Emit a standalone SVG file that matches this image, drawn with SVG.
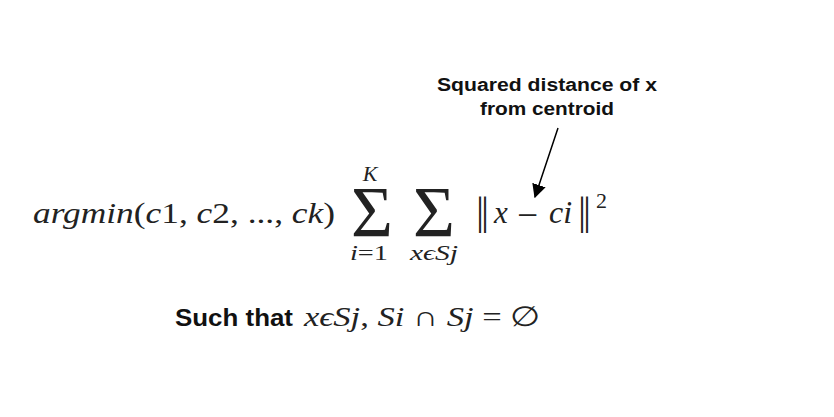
<svg xmlns="http://www.w3.org/2000/svg" width="834" height="417" viewBox="0 0 834 417">
<style>
.m{font-family:"Liberation Serif","DejaVu Serif",serif;font-style:italic;fill:#222}
.u{font-style:normal}
.bar{font-family:"Liberation Serif","DejaVu Serif",serif;font-style:normal;fill:#222;letter-spacing:-3px}
.lab{font-family:"Liberation Sans",Arial,sans-serif;font-weight:bold;fill:#111}
.sig{font-family:"Liberation Serif","DejaVu Serif",serif;font-size:72px;fill:#222;text-anchor:middle}
</style>
<defs>
<marker id="ah" viewBox="0 0 10 10" refX="9" refY="5" markerWidth="14" markerHeight="14" markerUnits="userSpaceOnUse" orient="auto">
<path d="M0,0 L10,5 L0,10 z" fill="#000"/>
</marker>
</defs>
<rect width="834" height="417" fill="#fff"/>
<g id="formula">
<text class="m" x="33" y="223" font-size="30" textLength="302" lengthAdjust="spacingAndGlyphs">argmin<tspan class="u">(</tspan>c<tspan class="u">1, </tspan>c<tspan class="u">2, ..., </tspan>ck<tspan class="u">)</tspan></text>
<text class="sig" x="372" y="236">Σ</text>
<text class="m" x="370" y="181" font-size="22" text-anchor="middle">K</text>
<text class="m" x="350" y="260" font-size="22" textLength="38" lengthAdjust="spacingAndGlyphs">i<tspan class="u">=1</tspan></text>
<text class="sig" x="434" y="236">Σ</text>
<text class="m" x="410" y="260" font-size="22" textLength="48" lengthAdjust="spacingAndGlyphs">xϵSj</text>
<text class="bar" x="476" y="224" font-size="40">||</text>
<text class="m" x="494" y="223" font-size="31">x</text>
<text class="m u" x="517" y="227" font-size="36" textLength="21" lengthAdjust="spacingAndGlyphs">−</text>
<text class="m" x="549" y="223" font-size="32">ci</text>
<text class="bar" x="578" y="224" font-size="40">||</text>
<text class="m u" x="596" y="208" font-size="22">2</text>
</g>
<g id="label">
<text class="lab" x="547" y="91" font-size="18" text-anchor="middle" textLength="220" lengthAdjust="spacingAndGlyphs">Squared distance of x</text>
<text class="lab" x="547" y="115" font-size="18" text-anchor="middle" textLength="134" lengthAdjust="spacingAndGlyphs">from centroid</text>
</g>
<g id="connectors">
<line x1="558" y1="128" x2="535" y2="197" stroke="#000" stroke-width="1.5" marker-end="url(#ah)"/>
</g>
<g id="constraint">
<text class="lab" x="175" y="326" font-size="24" textLength="118" lengthAdjust="spacingAndGlyphs">Such that</text>
<text class="m" x="304" y="326" font-size="28" textLength="236" lengthAdjust="spacingAndGlyphs">xϵSj<tspan class="u">,</tspan> Si <tspan class="u">∩</tspan> Sj <tspan class="u">=</tspan> <tspan class="u">∅</tspan></text>
</g>
</svg>
